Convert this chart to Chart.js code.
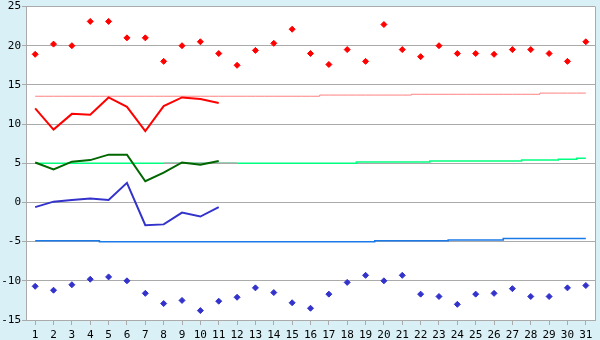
<!DOCTYPE html>
<html>
<head>
<meta charset="utf-8">
<script src="https://cdn.jsdelivr.net/npm/chart.js@4/dist/chart.umd.min.js"></script>
<style>
  body { margin: 0; background: #d9f0f7; }
  canvas { display: block; }
</style>
</head>
<body>
<canvas id="tempChart" width="600" height="340"></canvas>
<script>
const days = ['1','2','3','4','5','6','7','8','9','10','11','12','13','14','15','16',
              '17','18','19','20','21','22','23','24','25','26','27','28','29','30','31'];

// daily extremes (markers)
const maxTemp = [18.9, 20.2, 20.0, 23.1, 23.1, 21.0, 21.0, 18.0, 20.0, 20.5, 19.0, 17.5, 19.4, 20.3, 22.1, 19.0,
                 17.6, 19.5, 18.0, 22.7, 19.5, 18.6, 20.0, 19.0, 19.0, 18.9, 19.5, 19.5, 19.0, 18.0, 20.5];
const minTemp = [-10.7, -11.2, -10.5, -9.8, -9.5, -10.0, -11.6, -12.9, -12.5, -13.8, -12.6, -12.1, -10.9, -11.5, -12.8, -13.5,
                 -11.7, -10.2, -9.3, -10.0, -9.3, -11.7, -12.0, -13.0, -11.7, -11.6, -11.0, -12.0, -12.0, -10.9, -10.6];

// current month (days 1-11)
const highLine = [12.0, 9.3, 11.3, 11.2, 13.4, 12.2, 9.1, 12.3, 13.4, 13.2, 12.7];
const meanLine = [5.1, 4.2, 5.2, 5.4, 6.1, 6.1, 2.7, 3.8, 5.1, 4.8, 5.3];
const lowLine  = [-0.6, 0.1, 0.3, 0.5, 0.3, 2.5, -2.9, -2.8, -1.3, -1.8, -0.6];

// normals (stepped)
const normalHigh = [13.55, 13.55, 13.55, 13.55, 13.55, 13.55, 13.55, 13.55, 13.55, 13.55, 13.55, 13.55, 13.55, 13.55, 13.55, 13.55,
                    13.7, 13.7, 13.7, 13.7, 13.7, 13.8, 13.8, 13.8, 13.8, 13.8, 13.8, 13.8, 13.95, 13.95, 13.95];
const normalMean = [5.0, 5.0, 5.0, 5.0, 5.0, 5.0, 5.0, 5.0, 5.0, 5.0, 5.0, 5.0, 5.0, 5.0, 5.0, 5.0,
                    5.0, 5.0, 5.15, 5.15, 5.15, 5.15, 5.3, 5.3, 5.3, 5.3, 5.3, 5.4, 5.4, 5.5, 5.65];
const normalLow  = [-4.9, -4.9, -4.9, -4.9, -5.0, -5.0, -5.0, -5.0, -5.0, -5.0, -5.0, -5.0, -5.0, -5.0, -5.0, -5.0,
                    -5.0, -5.0, -5.0, -4.9, -4.9, -4.9, -4.9, -4.8, -4.8, -4.8, -4.6, -4.6, -4.6, -4.6, -4.6];
const greyMean   = [null, null, null, null, null, null, null, 5.0, 5.0, 5.0, 5.0, 5.0];

const yTicks = [-15, -10, -5, 0, 5, 10, 15, 20, 25];

const gridColor = '#aaaaaa';

const framePlugin = {
    id: 'frame',
    beforeDraw(chart) {
        const ctx = chart.ctx;
        const a = chart.chartArea;
        ctx.save();
        ctx.fillStyle = '#d9f0f7';
        ctx.fillRect(0, 0, chart.width, chart.height);
        ctx.fillStyle = '#ffffff';
        ctx.fillRect(a.left, a.top, a.right - a.left, a.bottom - a.top);
        ctx.restore();
    },
    afterDraw(chart) {
        const ctx = chart.ctx;
        const a = chart.chartArea;
        ctx.save();
        ctx.strokeStyle = gridColor;
        ctx.lineWidth = 1;
        ctx.beginPath();
        ctx.moveTo(Math.round(a.right) + 0.5, a.top);
        ctx.lineTo(Math.round(a.right) + 0.5, a.bottom);
        ctx.stroke();
        ctx.restore();
    }
};

function lineSet(data, color, width, stepped, order) {
    return {
        data: data,
        borderColor: color,
        borderWidth: width,
        pointRadius: 0,
        tension: 0,
        stepped: stepped,
        fill: false,
        order: order
    };
}

function markerSet(data, color, order) {
    return {
        data: data,
        showLine: false,
        pointStyle: 'rectRot',
        pointRadius: 3,
        pointBorderWidth: 1,
        pointBackgroundColor: color,
        pointBorderColor: color,
        order: order
    };
}

const ctx = document.getElementById('tempChart').getContext('2d');
new Chart(ctx, {
    type: 'line',
    data: {
        labels: days,
        datasets: [
            markerSet(maxTemp, '#ff0000', 1),
            markerSet(minTemp, '#3333cc', 1),
            lineSet(highLine, '#ff0000', 2, false, 2),
            lineSet(meanLine, '#006600', 2, false, 2),
            lineSet(lowLine, '#3333cc', 2, false, 2),
            lineSet(greyMean, '#a8a8a8', 1.5, 'middle', 3),
            lineSet(normalHigh, '#ff8080', 1, 'middle', 4),
            lineSet(normalMean, '#00ff80', 1.5, 'middle', 4),
            lineSet(normalLow, '#1a7ae8', 1.5, 'middle', 4)
        ]
    },
    options: {
        responsive: false,
        animation: false,
        layout: { padding: { top: 5, right: 5, left: 0, bottom: 0 } },
        plugins: {
            legend: { display: false },
            tooltip: { enabled: false }
        },
        scales: {
            x: {
                type: 'category',
                offset: true,
                grid: {
                    drawOnChartArea: false,
                    drawTicks: true,
                    tickLength: 5,
                    color: gridColor
                },
                border: { color: gridColor },
                ticks: {
                    autoSkip: false,
                    maxRotation: 0,
                    padding: 5,
                    color: '#000000',
                    font: { family: 'DejaVu Sans Mono', size: 11, lineHeight: 1 }
                },
                afterFit: scale => { scale.height = 20; }
            },
            y: {
                min: -15,
                max: 25,
                afterBuildTicks: scale => {
                    scale.ticks = yTicks.map(v => ({ value: v }));
                },
                grid: {
                    color: gridColor,
                    tickLength: 4
                },
                border: { color: gridColor },
                ticks: {
                    padding: 1,
                    color: '#000000',
                    font: { family: 'DejaVu Sans Mono', size: 11, lineHeight: 1 }
                },
                afterFit: scale => { scale.width = 26; }
            }
        }
    },
    plugins: [framePlugin]
});
</script>
</body>
</html>
